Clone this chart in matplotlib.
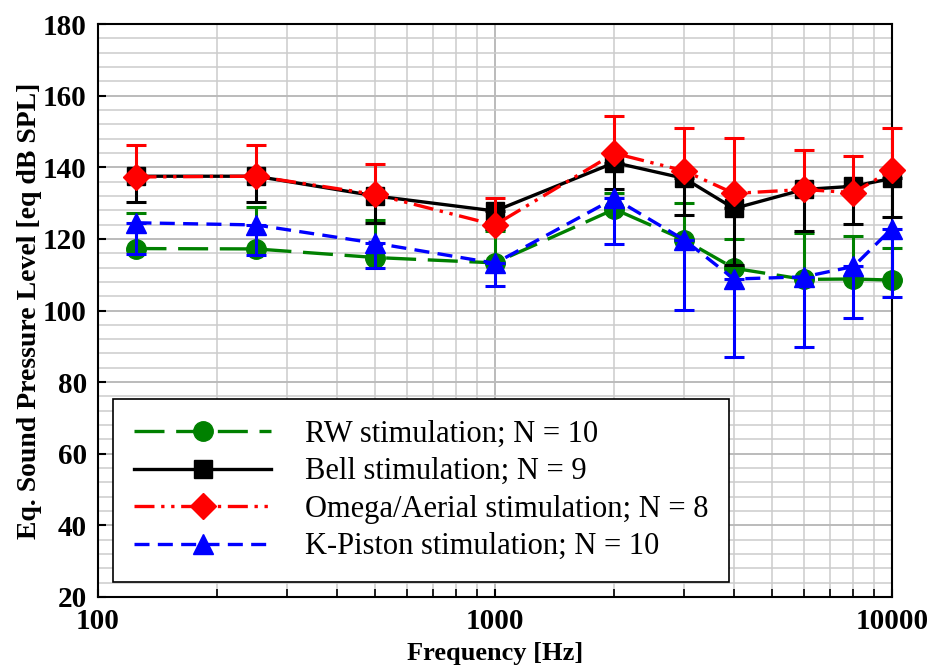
import matplotlib
matplotlib.use("Agg")
import matplotlib.pyplot as plt
from matplotlib.ticker import FixedLocator, NullFormatter, FuncFormatter
import numpy as np

# data
freqs = [125, 250, 500, 1000, 2000, 3000, 4000, 6000, 8000, 10000]

rw_mean = [117.3, 117.2, 114.8, 113.3, 128.3, 119.7, 111.8, 108.7, 108.8, 108.5]
rw_err_up = [10.0, 11.6, 10.6, 9.0, 4.5, 10.4, 8.1, 13.0, 12.1, 9.0]

bell_mean = [137.5, 137.5, 132.0, 127.8, 141.3, 136.9, 128.5, 133.8, 134.7, 136.9]
bell_err_down = [7.3, 7.3, 7.5, 5.0, 7.4, 10.1, 15.8, 11.5, 10.6, 10.8]

omega_mean = [137.3, 137.5, 132.4, 123.9, 143.9, 139.0, 132.7, 133.8, 132.9, 139.2]
omega_err_up = [8.9, 8.7, 8.5, 7.4, 10.4, 12.0, 15.5, 11.0, 10.2, 11.9]

kp_mean = [124.5, 123.9, 118.8, 113.2, 131.3, 119.7, 108.8, 109.4, 112.3, 122.9]
kp_err_down = [8.7, 8.4, 7.0, 6.4, 12.6, 19.6, 21.9, 19.7, 14.4, 19.1]

labels = ["RW stimulation; N = 10", "Bell stimulation; N = 9",
          "Omega/Aerial stimulation; N = 8", "K-Piston stimulation; N = 10"]

plt.rcParams['font.family'] = ['Liberation Serif', 'DejaVu Serif']

fig = plt.figure(figsize=(9.27, 6.68), dpi=100)
ax = fig.add_axes([0.1057, 0.1063, 0.8565, 0.8577])

zeros = [0] * len(freqs)
common = dict(lw=2.4, elinewidth=2.2, capsize=7, capthick=2.2)

# RW - green, long dashes, error bars upward
c1 = ax.errorbar(freqs, rw_mean, yerr=[zeros, rw_err_up], color='#008000',
                 marker='o', ms=14, dashes=(9, 3.5), zorder=3, **common)
# Bell - black, solid, error bars downward
c2 = ax.errorbar(freqs, bell_mean, yerr=[bell_err_down, zeros], color='black',
                 marker='s', ms=13, zorder=4, **common)
# Omega/Aerial - red, dash-dot-dot, error bars upward
c3 = ax.errorbar(freqs, omega_mean, yerr=[zeros, omega_err_up], color='#FF0000',
                 marker='D', ms=13, dashes=(6, 2, 1, 2, 1, 2), zorder=5, **common)
# K-Piston - blue, dashes, error bars downward
c4 = ax.errorbar(freqs, kp_mean, yerr=[kp_err_down, zeros], color='#0000FF',
                 marker='^', ms=15, dashes=(4.5, 2.5), zorder=6, **common)

for c in (c1, c2, c3, c4):
    c[0].set_clip_on(False)
    for art in c[1] + c[2]:
        art.set_clip_on(False)

ax.set_xscale('log')
ax.set_xlim(100, 10000)
ax.set_ylim(20, 180)

ax.xaxis.set_major_locator(FixedLocator([100, 1000, 10000]))
minor_x = [m * d for d in (100, 1000) for m in range(2, 10)]
ax.xaxis.set_minor_locator(FixedLocator(minor_x))
ax.xaxis.set_major_formatter(FuncFormatter(lambda v, p: "%d" % v))
ax.xaxis.set_minor_formatter(NullFormatter())
ax.set_yticks(np.arange(20, 181, 20))
ax.yaxis.set_minor_locator(FixedLocator(np.arange(20, 181, 4)))

ax.grid(which='minor', color='#cccccc', lw=1.1)
ax.grid(which='major', color='#bbbbbb', lw=1.4)
ax.set_axisbelow(True)

for s in ax.spines.values():
    s.set_linewidth(1.5)

ax.tick_params(axis='both', which='major', direction='in', length=6, width=1.5,
               labelsize=21, top=False, right=False, pad=8)
ax.tick_params(axis='x', which='minor', direction='in', length=6, width=1.2,
               top=False)
ax.tick_params(axis='y', which='minor', length=0)
for lbl in ax.get_xticklabels() + ax.get_yticklabels():
    lbl.set_fontweight('bold')

ax.set_xlabel("Frequency [Hz]", fontsize=19, fontweight='bold', labelpad=5)
ax.set_ylabel("Eq. Sound Pressure Level [eq dB SPL]", fontsize=20,
              fontweight='bold', labelpad=1)

leg = ax.legend([c[0] for c in (c1, c2, c3, c4)], labels,
                loc='lower left', bbox_to_anchor=(0.019, 0.026), fontsize=22,
                handlelength=4.5, handletextpad=1.1, labelspacing=0.28,
                borderpad=0.68, borderaxespad=0, fancybox=False, framealpha=1,
                edgecolor='black')
leg.get_frame().set_linewidth(1.2)

fig.savefig("out.png", dpi=100)
